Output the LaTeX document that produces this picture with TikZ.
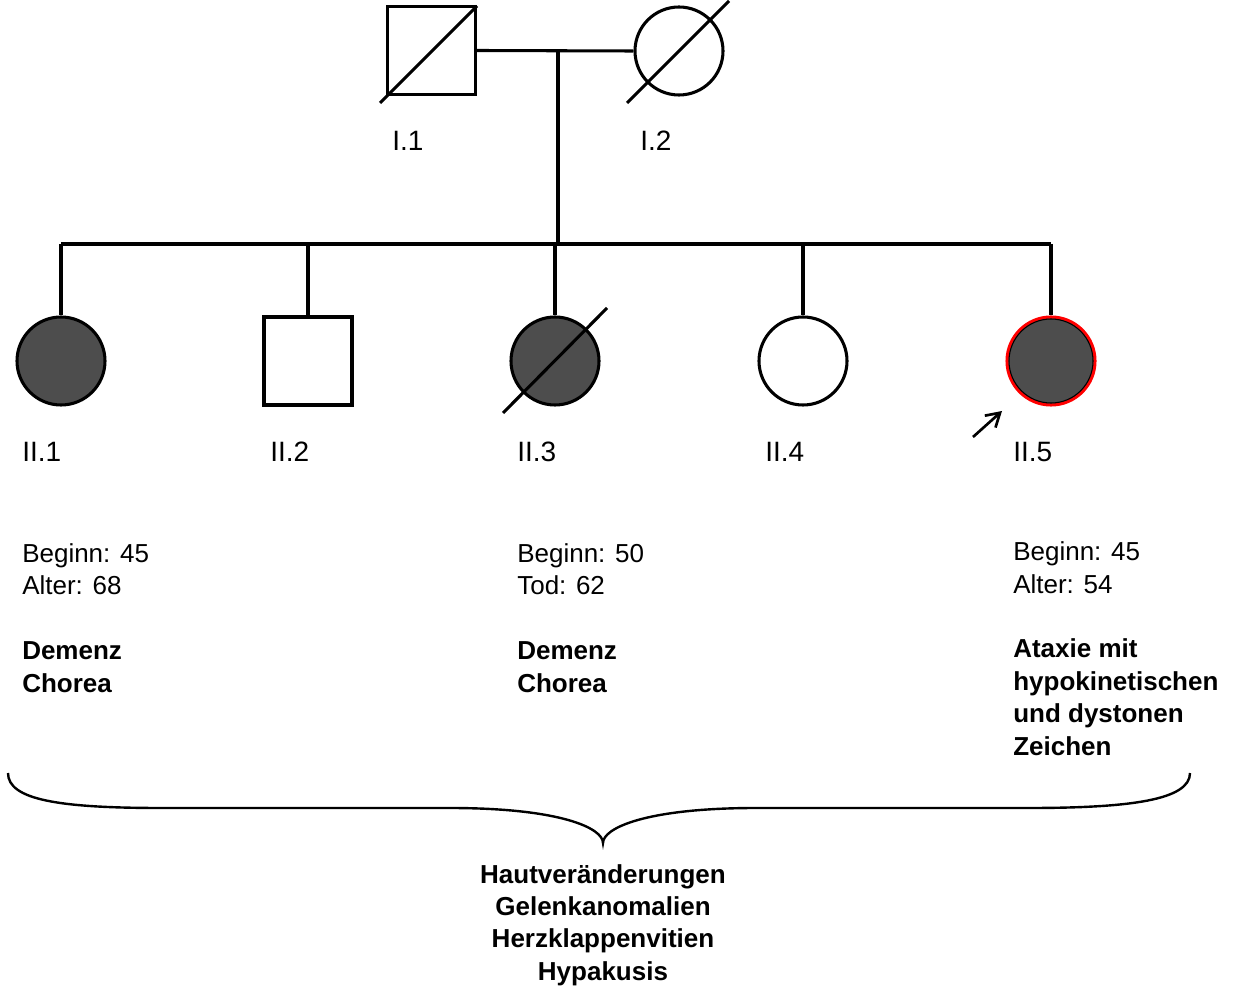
\documentclass[tikz,border=0pt]{standalone}
\usepackage{fontspec}
\setmainfont{Liberation Sans}
\usetikzlibrary{arrows.meta}
\definecolor{affgray}{RGB}{77,77,77}
\tikzset{
  ln/.style={line width=2.3pt},
  male/.style={ln, draw, rectangle, minimum size=66pt, inner sep=0pt},
  female/.style={ln, draw, circle, minimum size=66pt, inner sep=0pt},
  aff/.style={fill=affgray},
  lbl/.style={font=\fontsize{21}{25}\selectfont, inner sep=0pt, anchor=base west},
  txt/.style={font=\fontsize{19.5}{24.3}\selectfont, inner sep=0pt, anchor=base west, align=left},
  btxt/.style={font=\bfseries\fontsize{19.5}{24.3}\selectfont, inner sep=0pt, align=center}
}
\begin{document}
\begin{tikzpicture}[x=0.75pt, y=-0.75pt]
\useasboundingbox (0,0) rectangle (1239,987);
% generation I
\node[male] (I1) at (431.5,50.5) {};
\node[female] (I2) at (679,51) {};
\draw[ln] (380,103) -- (477,6);
\draw[ln] (627,103) -- (729,1);
\coordinate (m) at (558,52);
\coordinate (s) at (558,244);
\draw[ln] (I1.east) -- (I2.west);
\draw[ln] (m) -- (s);
\node[lbl] (L11) at (392,151) {I.1};
\node[lbl] (L12) at (640,151) {I.2};
% generation II
\node[female, aff] (II1) at (61,361) {};
\node[male] (II2) at (308,361) {};
\node[female, aff] (II3) at (555,361) {};
\node[female] (II4) at (803,361) {};
\node[female, fill=affgray, draw=red, line width=2.3pt] (II5) at (1051,361) {};
\draw[line width=0.8pt] (II5.center) circle[radius=31.5pt];
\draw[ln] (503,413) -- (607,308);
\draw[ln] (II1.north |- s) -- (II5.north |- s);
\foreach \n in {II1,II2,II3,II4,II5}{
  \draw[ln] (\n.north |- s) -- (\n.north);
}
\coordinate (a0) at (973,437);
\coordinate (a1) at (1002,411);
\draw[line width=2pt, -{Straight Barb[length=10pt,width=12pt]}] (a0) -- (a1);
\node[lbl] (L21) at (22,461) {II.1};
\node[lbl] (L22) at (270,461) {II.2};
\node[lbl] (L23) at (517,461) {II.3};
\node[lbl] (L24) at (765,461) {II.4};
\node[lbl] (L25) at (1013,461) {II.5};
% texts
\node[txt] (T1) at (22,692) {Beginn: 45\\Alter: 68\\[24.3pt]\textbf{Demenz}\\\textbf{Chorea}};
\node[txt] (T3) at (517,692) {Beginn: 50\\Tod: 62\\[24.3pt]\textbf{Demenz}\\\textbf{Chorea}};
\node[txt] (T5) at (1013,755) {Beginn: 45\\Alter: 54\\[24.3pt]\textbf{Ataxie mit}\\\textbf{hypokinetischen}\\\textbf{und dystonen}\\\textbf{Zeichen}};
% brace
\draw[line width=1.8pt] (8,773) .. controls (8,800) and (60,808) .. (162,808) -- (450,808)
  .. controls (560,808) and (603,828) .. (603,843)
  .. controls (603,828) and (646,808) .. (756,808) -- (1028,808)
  .. controls (1130,808) and (1190,800) .. (1190,773);
\node[btxt, anchor=north] (B) at (603,864) {Hautveränderungen\\Gelenkanomalien\\Herzklappenvitien\\Hypakusis};
\end{tikzpicture}
\end{document}
